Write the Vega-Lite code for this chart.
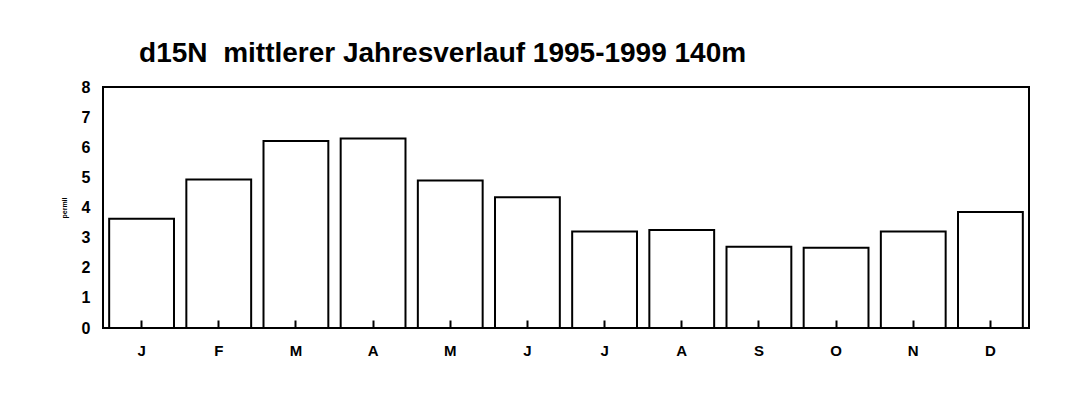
{
  "$schema": "https://vega.github.io/schema/vega-lite/v6.json",
  "autosize": "none",
  "width": 926,
  "height": 241,
  "padding": {"left": 103, "top": 87, "right": 49, "bottom": 81},
  "background": "white",
  "title": {
    "text": "d15N\u00a0 mittlerer Jahresverlauf 1995-1999 140m",
    "anchor": "start",
    "dx": 79,
    "offset": 11,
    "font": "Liberation Sans",
    "fontSize": 28,
    "fontWeight": "bold",
    "color": "black"
  },
  "data": {
    "values": [
      {"monat": "Jan", "d15N": 3.63},
      {"monat": "Feb", "d15N": 4.93},
      {"monat": "Mär", "d15N": 6.21},
      {"monat": "Apr", "d15N": 6.29},
      {"monat": "Mai", "d15N": 4.9},
      {"monat": "Jun", "d15N": 4.34},
      {"monat": "Jul", "d15N": 3.2},
      {"monat": "Aug", "d15N": 3.25},
      {"monat": "Sep", "d15N": 2.7},
      {"monat": "Okt", "d15N": 2.66},
      {"monat": "Nov", "d15N": 3.2},
      {"monat": "Dez", "d15N": 3.85}
    ]
  },
  "mark": {"type": "bar", "fill": "white", "stroke": "black", "strokeWidth": 2},
  "encoding": {
    "x": {
      "field": "monat",
      "type": "ordinal",
      "sort": null,
      "scale": {"paddingInner": 0.16, "paddingOuter": 0.08},
      "axis": {
        "title": null,
        "zindex": 1,
        "labelAngle": 0,
        "labelExpr": "slice(datum.label, 0, 1)",
        "domain": false,
        "tickSize": -8,
        "tickColor": "black",
        "tickWidth": 2,
        "labelPadding": 23,
        "labelFont": "Liberation Sans",
        "labelFontWeight": "bold",
        "labelFontSize": 15,
        "labelColor": "black"
      }
    },
    "y": {
      "field": "d15N",
      "type": "quantitative",
      "scale": {"domain": [0, 8], "nice": false},
      "axis": {
        "title": "permil",
        "titleFont": "Liberation Sans",
        "titleFontSize": 7,
        "titleFontWeight": "bold",
        "titleColor": "black",
        "titlePadding": 14,
        "values": [0, 1, 2, 3, 4, 5, 6, 7, 8],
        "grid": false,
        "domain": false,
        "ticks": false,
        "labelPadding": 13,
        "labelFont": "Liberation Sans",
        "labelFontWeight": "bold",
        "labelFontSize": 16,
        "labelColor": "black"
      }
    }
  },
  "config": {
    "view": {"stroke": "black", "strokeWidth": 2}
  }
}
